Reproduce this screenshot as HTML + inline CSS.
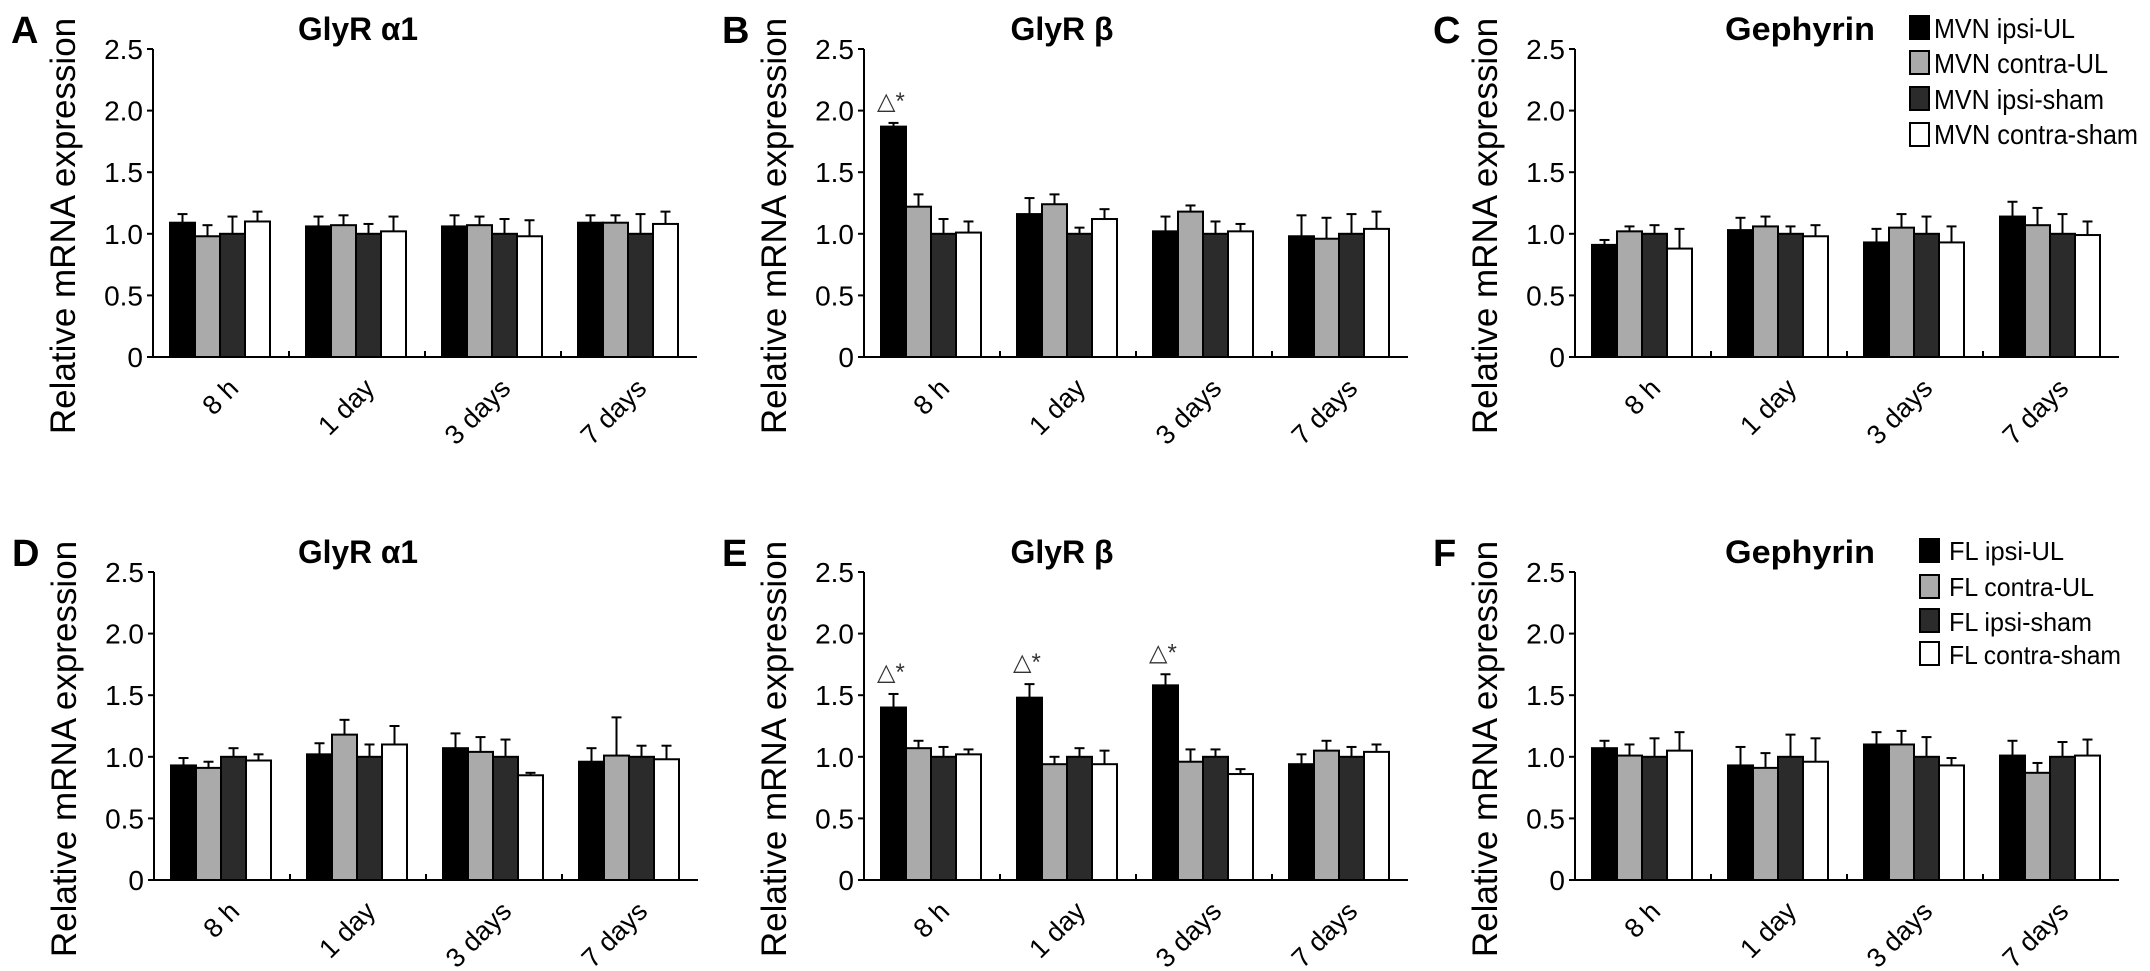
<!DOCTYPE html>
<html><head><meta charset="utf-8"><style>
html,body{margin:0;padding:0;background:#fff;}
svg{display:block;font-family:"Liberation Sans",Arial,sans-serif;}
</style></head><body>
<svg id="fig" width="2150" height="971" viewBox="0 0 2150 971" xmlns="http://www.w3.org/2000/svg"></svg>
<script>
const categories = ["8 h", "1 day", "3 days", "7 days"];
const yTicks = [0, 0.5, 1.0, 1.5, 2.0, 2.5];
const yTickLabels = ["0", "0.5", "1.0", "1.5", "2.0", "2.5"];
const mvnSeries = ["MVN ipsi-UL", "MVN contra-UL", "MVN ipsi-sham", "MVN contra-sham"];
const flSeries = ["FL ipsi-UL", "FL contra-UL", "FL ipsi-sham", "FL contra-sham"];
// values[series][category]
const meanA = [[1.09,1.06,1.06,1.09],[0.98,1.07,1.07,1.09],[1.00,1.00,1.00,1.00],[1.10,1.02,0.98,1.08]];
const errA  = [[0.07,0.08,0.09,0.06],[0.09,0.08,0.07,0.06],[0.14,0.08,0.12,0.16],[0.08,0.12,0.13,0.10]];
const meanB = [[1.87,1.16,1.02,0.98],[1.22,1.24,1.18,0.96],[1.00,1.00,1.00,1.00],[1.01,1.12,1.02,1.04]];
const errB  = [[0.03,0.13,0.12,0.17],[0.10,0.08,0.05,0.17],[0.12,0.05,0.10,0.16],[0.09,0.08,0.06,0.14]];
const meanC = [[0.91,1.03,0.93,1.14],[1.02,1.06,1.05,1.07],[1.00,1.00,1.00,1.00],[0.88,0.98,0.93,0.99]];
const errC  = [[0.04,0.10,0.11,0.12],[0.04,0.08,0.11,0.14],[0.07,0.06,0.14,0.16],[0.16,0.09,0.13,0.11]];
const meanD = [[0.93,1.02,1.07,0.96],[0.91,1.18,1.04,1.01],[1.00,1.00,1.00,1.00],[0.97,1.10,0.85,0.98]];
const errD  = [[0.06,0.09,0.12,0.11],[0.05,0.12,0.12,0.31],[0.07,0.10,0.14,0.09],[0.05,0.15,0.02,0.11]];
const meanE = [[1.40,1.48,1.58,0.94],[1.07,0.94,0.96,1.05],[1.00,1.00,1.00,1.00],[1.02,0.94,0.86,1.04]];
const errE  = [[0.11,0.11,0.09,0.08],[0.06,0.06,0.10,0.08],[0.08,0.07,0.06,0.08],[0.04,0.11,0.04,0.06]];
const meanF = [[1.07,0.93,1.10,1.01],[1.01,0.91,1.10,0.87],[1.00,1.00,1.00,1.00],[1.05,0.96,0.93,1.01]];
const errF  = [[0.06,0.15,0.10,0.12],[0.09,0.12,0.11,0.08],[0.15,0.18,0.16,0.12],[0.15,0.19,0.06,0.13]];
// significance marks: [category index] over series 0
const sigB = [0];
const sigE = [0,1,2];

const NS = "http://www.w3.org/2000/svg";
const svg = document.getElementById("fig");
const fills = ["#000000", "#aaaaaa", "#2b2b2b", "#ffffff"];
function mk(tag, attrs, parent) {
  const e = document.createElementNS(NS, tag);
  for (const k in attrs) e.setAttribute(k, attrs[k]);
  (parent || svg).appendChild(e);
  return e;
}
const panels = [
  {id:"a", letter:"A", title:"GlyR α1", tx:358, tw:120, ax:153, y0:357, mean:meanA, err:errA, sig:[]},
  {id:"b", letter:"B", title:"GlyR β", tx:1062, tw:103, ax:864, y0:357, mean:meanB, err:errB, sig:sigB},
  {id:"c", letter:"C", title:"Gephyrin", tx:1800, tw:150, ax:1575, y0:357, mean:meanC, err:errC, sig:[]},
  {id:"d", letter:"D", title:"GlyR α1", tx:358, tw:120, ax:154, y0:880, mean:meanD, err:errD, sig:[]},
  {id:"e", letter:"E", title:"GlyR β", tx:1062, tw:103, ax:864, y0:880, mean:meanE, err:errE, sig:sigE},
  {id:"f", letter:"F", title:"Gephyrin", tx:1800, tw:150, ax:1575, y0:880, mean:meanF, err:errF, sig:[]}
];
const UNIT = 123.2, SLOT = 136, BAR = 25, OFF = 17;
panels.forEach(p => {
  const g = mk("g", {});
  
  
  const yS = v => p.y0 - v * UNIT;
  const xS = (c, s) => p.ax + c * SLOT + OFF + s * BAR;
  const top = p.y0 < 500;
  const letter = mk("text", {x: p.ax - 142, y: p.y0 - 314, "font-size": 38, "font-weight": "bold"}, g);
  letter.textContent = p.letter;
  
  
  const title = mk("text", {x: p.tx, y: p.y0 - 317, "font-size": 32, "font-weight": "bold", "text-anchor": "middle", textLength: p.tw, lengthAdjust: "spacingAndGlyphs"}, g);
  title.textContent = p.title;
  
  
  const yt = mk("text", {transform: `translate(${p.ax - 78},${p.y0 - 131}) rotate(-90)`, "font-size": 35, "text-anchor": "middle"}, g);
  yt.textContent = "Relative mRNA expression";
  
  
  // axes
  const yAxis = mk("line", {x1: p.ax, y1: yS(2.5), x2: p.ax, y2: p.y0 + 1, stroke: "#000", "stroke-width": 2}, g);
  
  
  const axEnd = p.ax + SLOT * categories.length;
  const xAxis = mk("line", {x1: p.ax - 1, y1: p.y0, x2: axEnd, y2: p.y0, stroke: "#000", "stroke-width": 2}, g);
  
  
  yTicks.forEach((t, i) => {
    const tk = mk("line", {x1: p.ax - 6, y1: yS(t), x2: p.ax, y2: yS(t), stroke: "#000", "stroke-width": 2}, g);
    
    
    const tl = mk("text", {x: p.ax - 10, y: yS(t) + 10, "font-size": 28, "text-anchor": "end"}, g);
    tl.textContent = yTickLabels[i];
    
    
  });
  categories.forEach((c, ci) => {
    if (ci > 0) {
      const xt = mk("line", {x1: p.ax + ci * SLOT, y1: p.y0, x2: p.ax + ci * SLOT, y2: p.y0 - 6, stroke: "#000", "stroke-width": 2}, g);
      
      
    }
    const cx = p.ax + ci * SLOT + OFF + 2 * BAR;
    const xl = mk("text", {transform: `translate(${cx + 20},${p.y0 + 33}) rotate(-45)`, "font-size": 27, "text-anchor": "end"}, g);
    xl.textContent = c;
    
    
    for (let s = 0; s < 4; s++) {
      const v = p.mean[s][ci], e = p.err[s][ci];
      const x = xS(ci, s);
      const eb = mk("line", {x1: x + BAR / 2, y1: yS(v), x2: x + BAR / 2, y2: yS(v + e), stroke: "#000", "stroke-width": 2}, g);
      
      
      const cap = mk("line", {x1: x + BAR / 2 - 5, y1: yS(v + e), x2: x + BAR / 2 + 5, y2: yS(v + e), stroke: "#000", "stroke-width": 2}, g);
      
      
      const r = mk("rect", {x: x, y: yS(v), width: BAR, height: v * UNIT, fill: fills[s], stroke: "#000", "stroke-width": 2}, g);
      
      
    }
  });
  p.sig.forEach(ci => {
    const s = mk("text", {x: xS(ci, 0) - 4, y: yS(p.mean[0][ci] + p.err[0][ci]) - 14, "font-size": 24, fill: "#333"}, g);
    s.textContent = "△*";
    
    
  });
});
// legends
function legend(names, sx, tx, sqTops, sqH, baselines, widths, fs, nm) {
  const g = mk("g", {});
  
  
  names.forEach((n, i) => {
    const r = mk("rect", {x: sx, y: sqTops[i], width: 19, height: sqH, fill: fills[i], stroke: "#000", "stroke-width": 2}, g);
    
    
    const t = mk("text", {x: tx, y: baselines[i], "font-size": fs, textLength: widths[i], lengthAdjust: "spacingAndGlyphs"}, g);
    t.textContent = n;
    
    
  });
}
legend(mvnSeries, 1910, 1934, [16, 51, 87, 123], 23, [38, 73, 109, 144], [141, 174, 170, 204], 28, "legend-mvn");
legend(flSeries, 1920, 1949, [539, 575, 609, 642], 23, [560, 596, 631, 664], [115, 145, 143, 172], 26, "legend-fl");
</script>
</body></html>
